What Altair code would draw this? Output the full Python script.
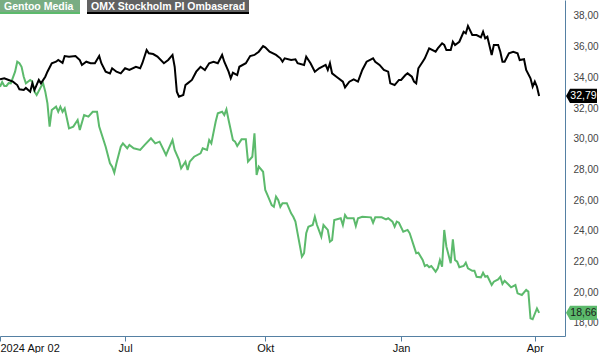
import altair as alt
import pandas as pd

# ---------------- data ----------------
serie_namn = ["Gentoo Media", "OMX Stockholm PI Ombaserad"]

# trading-day number since 2024-04-02 and closing value
gentoo_dag = [0, 1, 2, 3, 4, 5, 7, 8, 9, 10, 11, 12, 14, 15, 16, 17, 19, 20, 21, 22,
              23, 24, 26, 27, 28, 29, 30, 32, 34, 36, 37, 39, 41, 43, 45, 46, 49, 51, 52, 53,
              54, 56, 57, 59, 60, 62, 65, 67, 70, 72, 74, 77, 78, 80, 81, 83, 84, 86, 87, 88,
              90, 93, 94, 96, 97, 98, 100, 101, 103, 104, 105, 106, 108, 109, 110, 112, 114, 115, 117, 118,
              119, 120, 122, 123, 124, 126, 127, 128, 129, 130, 131, 133, 135, 136, 137, 138, 140, 141, 142, 143,
              145, 146, 147, 149, 150, 152, 153, 154, 155, 158, 159, 160, 161, 164, 165, 166, 168, 172, 173, 174,
              177, 179, 180, 182, 183, 184, 185, 187, 189, 190, 192, 193, 194, 196, 197, 198, 199, 200, 202, 203,
              204, 205, 206, 207, 209, 210, 211, 212, 213, 215, 216, 217, 219, 220, 221, 223, 224, 225, 226, 228,
              229, 231, 232, 233, 234, 236, 237, 239, 240, 242, 244, 245, 246, 247, 249, 250]
gentoo_kurs = [33.39, 33.70, 33.44, 33.44, 33.63, 33.61, 34.37, 35.02, 34.92, 34.69, 34.04, 33.61, 33.83, 33.72, 33.07, 32.85, 33.39, 33.61, 33.07, 32.31,
               30.79, 31.87, 32.09, 31.76, 32.09, 31.76, 31.98, 30.68, 30.79, 31.22, 30.57, 31.55, 31.44, 31.76, 31.76, 30.79, 29.48, 28.40, 28.18, 27.79,
               28.40, 29.48, 29.70, 29.38, 29.59, 29.38, 29.27, 29.59, 30.03, 29.70, 29.81, 28.94, 29.27, 29.92, 29.27, 28.62, 28.07, 28.51, 27.96, 28.51,
               28.83, 29.05, 29.38, 29.27, 29.92, 29.70, 31.11, 31.66, 31.76, 31.55, 31.92, 31.22, 29.92, 29.81, 29.53, 29.96, 29.96, 28.51, 28.83, 30.36,
               27.64, 28.18, 27.85, 26.66, 26.34, 25.68, 25.57, 26.23, 26.01, 25.57, 25.80, 25.80, 25.14, 24.92, 24.60, 23.84, 22.32, 22.54, 23.84, 24.27,
               24.38, 24.92, 24.38, 23.62, 24.38, 24.06, 23.29, 23.40, 24.71, 24.82, 24.38, 25.03, 24.82, 24.82, 24.32, 24.82, 24.92, 24.88, 24.53, 24.88,
               24.88, 24.75, 24.82, 24.60, 24.27, 24.60, 24.53, 23.95, 24.06, 23.84, 22.97, 22.54, 22.58, 22.10, 21.71, 21.78, 21.63, 21.71, 21.34, 21.56,
               22.10, 21.66, 24.06, 22.97, 21.89, 23.45, 22.10, 21.99, 21.63, 21.71, 21.93, 21.56, 21.40, 21.40, 21.01, 20.97, 21.27, 21.01, 21.06, 20.47,
               20.69, 20.84, 21.01, 20.54, 20.75, 20.47, 20.32, 20.47, 19.93, 19.82, 20.15, 20.04, 18.30, 18.24, 18.95, 18.66]

omx_dag = [0, 2, 4, 6, 8, 9, 11, 12, 14, 15, 16, 18, 19, 21, 22, 24, 26, 27, 29, 30,
           32, 35, 37, 38, 40, 42, 44, 46, 47, 49, 51, 52, 54, 56, 58, 60, 63, 65, 66, 68,
           69, 71, 73, 76, 78, 80, 81, 82, 83, 85, 86, 87, 89, 91, 93, 95, 97, 99, 101, 103,
           104, 106, 107, 108, 110, 111, 114, 116, 118, 120, 122, 123, 125, 128, 130, 131, 132, 135, 137, 138,
           141, 142, 144, 146, 148, 151, 152, 153, 154, 156, 159, 160, 162, 164, 166, 168, 170, 173, 174, 176,
           178, 180, 181, 183, 185, 186, 188, 189, 191, 192, 193, 194, 196, 197, 199, 202, 203, 205, 206, 207,
           209, 210, 211, 213, 215, 216, 217, 219, 221, 223, 224, 225, 226, 228, 229, 231, 232, 233, 234, 236,
           238, 240, 241, 243, 244, 246, 247, 248, 249, 250]
omx_kurs = [33.87, 33.94, 33.83, 33.72, 33.50, 33.22, 33.18, 33.31, 33.07, 33.61, 33.18, 33.83, 33.61, 34.04, 34.37, 34.92, 35.02, 35.13, 34.94, 35.39,
            35.35, 35.39, 35.13, 34.81, 35.02, 34.92, 34.92, 35.39, 34.92, 34.37, 34.26, 34.59, 34.37, 34.26, 34.59, 34.48, 34.69, 34.59, 34.92, 35.78,
            35.57, 35.52, 35.35, 34.92, 35.13, 35.46, 34.69, 33.07, 32.74, 32.85, 33.50, 33.61, 33.83, 34.37, 34.69, 34.48, 34.92, 35.02, 34.92, 35.46,
            35.02, 34.37, 33.94, 34.30, 34.15, 34.69, 34.92, 35.39, 35.46, 35.67, 36.04, 35.96, 35.67, 35.46, 35.24, 35.02, 35.24, 35.13, 35.18, 34.92,
            34.81, 35.35, 34.92, 34.37, 34.59, 34.81, 34.48, 34.92, 34.26, 34.04, 33.72, 33.35, 33.72, 33.87, 33.72, 34.48, 35.02, 35.24, 35.02, 34.81,
            34.48, 34.37, 33.61, 33.50, 33.83, 33.83, 34.15, 34.26, 34.04, 33.72, 33.61, 34.59, 35.02, 35.24, 35.89, 35.67, 35.89, 36.22, 36.11, 35.78,
            35.78, 36.32, 36.11, 36.32, 36.97, 36.87, 37.35, 36.76, 36.76, 36.61, 36.97, 36.54, 36.65, 35.46, 36.11, 36.11, 35.67, 35.02, 35.02, 35.57,
            35.67, 35.57, 35.13, 35.18, 34.48, 33.94, 33.39, 33.72, 33.39, 32.79]

x_tick_values = [0, 58, 123, 186, 248]
x_tick_labels = ["2024 Apr 02", "Jul", "Okt", "Jan", "Apr"]
y_tick_values = [18, 20, 22, 24, 26, 28, 30, 32, 34, 36, 38]

# ---------------- styling ----------------
W, H = 565, 336
GREEN = "#5cba6c"
BLACK = "#000000"
AXIS = "#5580a3"
FONT = "Liberation Sans"

rows = []
for d, v in zip(gentoo_dag, gentoo_kurs):
    rows.append({"dag": d, "kurs": v, "serie": serie_namn[0]})
for d, v in zip(omx_dag, omx_kurs):
    rows.append({"dag": d, "kurs": v, "serie": serie_namn[1]})
df = pd.DataFrame(rows)

last = pd.DataFrame({
    "serie": serie_namn,
    "kurs": [gentoo_kurs[-1], omx_kurs[-1]],
    "etikett": [f"{gentoo_kurs[-1]:.2f}".replace(".", ","), f"{omx_kurs[-1]:.2f}".replace(".", ",")],
})

x_expr = "".join(
    f"datum.value == {v} ? '{l}' : " for v, l in zip(x_tick_values, x_tick_labels)
) + "''"

x_scale = alt.Scale(domain=[0, 262], nice=False, zero=False)
y_scale = alt.Scale(domain=[17.15, 39.04], nice=False, zero=False)

x_axis = alt.Axis(
    values=x_tick_values, labelExpr=x_expr, grid=False, orient="bottom", title=None,
    domainColor=AXIS, domainWidth=1, tickColor=AXIS, tickSize=5, labelFlush=True,
    labelFont=FONT, labelFontSize=11, labelColor="#111111", labelPadding=1,
    labelOverlap=False,
)
y_axis = alt.Axis(
    values=y_tick_values, orient="right", grid=False, title=None, ticks=False,
    labelExpr="replace(format(datum.value, '.2f'), '.', ',')",
    domainColor=AXIS, domainWidth=1, labelFont=FONT, labelFontSize=10,
    labelColor="#444444", labelPadding=8, labelOverlap=False, labelBound=False,
    labelSeparation=0,
)
x_enc = alt.X("dag:Q", scale=x_scale, axis=x_axis)
y_enc = alt.Y("kurs:Q", scale=y_scale, axis=y_axis)

green_line = alt.Chart(df[df.serie == serie_namn[0]]).mark_line(strokeWidth=2, color=GREEN).encode(
    x=x_enc, y=y_enc)
black_line = alt.Chart(df[df.serie == serie_namn[1]]).mark_line(strokeWidth=2, color=BLACK).encode(
    x=x_enc, y=y_enc)

badge_path = "M-1,0 L-0.74,-0.46 L1,-0.46 L1,0.46 L-0.74,0.46 Z"
badges = alt.Chart(last).mark_point(shape=badge_path, size=961, filled=True, opacity=1, strokeWidth=0).encode(
    x=alt.value(581.5),
    y=y_enc,
    fill=alt.Color("serie:N", scale=alt.Scale(domain=serie_namn, range=[GREEN, BLACK]), legend=None),
)
badge_text = alt.Chart(last).mark_text(font=FONT, fontSize=10.5, align="center", baseline="middle", dx=2).encode(
    x=alt.value(581.5),
    y=y_enc,
    text="etikett:N",
    color=alt.Color("serie:N", scale=alt.Scale(domain=serie_namn, range=["#1a1a1a", "#ffffff"]), legend=None),
)

one = pd.DataFrame({"a": [0]})
leg_g_box = alt.Chart(one).mark_rect(color="#79ad83").encode(
    x=alt.value(0), x2=alt.value(80), y=alt.value(0), y2=alt.value(13))
leg_g_line = alt.Chart(one).mark_rule(color=GREEN, strokeWidth=2).encode(
    x=alt.value(0), x2=alt.value(80), y=alt.value(13))
leg_g_text = alt.Chart(pd.DataFrame({"t": [serie_namn[0]]})).mark_text(
    font=FONT, fontSize=10.5, fontWeight="bold", color="white", align="left", baseline="middle").encode(
    x=alt.value(4), y=alt.value(7), text="t:N")
leg_o_box = alt.Chart(one).mark_rect(color="#626262").encode(
    x=alt.value(87), x2=alt.value(249), y=alt.value(0), y2=alt.value(13))
leg_o_line = alt.Chart(one).mark_rule(color=BLACK, strokeWidth=2).encode(
    x=alt.value(87), x2=alt.value(249), y=alt.value(13))
leg_o_text = alt.Chart(pd.DataFrame({"t": [serie_namn[1]]})).mark_text(
    font=FONT, fontSize=10.5, fontWeight="bold", color="white", align="left", baseline="middle").encode(
    x=alt.value(91), y=alt.value(7), text="t:N")

chart = alt.layer(
    green_line, black_line, badges, badge_text,
    leg_g_box, leg_g_line, leg_g_text, leg_o_box, leg_o_line, leg_o_text,
).properties(
    width=W, height=H,
    padding={"left": 0, "top": 0, "right": 35, "bottom": 17},
    autosize=alt.AutoSizeParams(type="none"), background="white",
).configure_view(stroke=None).configure_axis(labelOverlap=False)

chart.save("out.html", embed_options={"renderer": "svg", "actions": False})
